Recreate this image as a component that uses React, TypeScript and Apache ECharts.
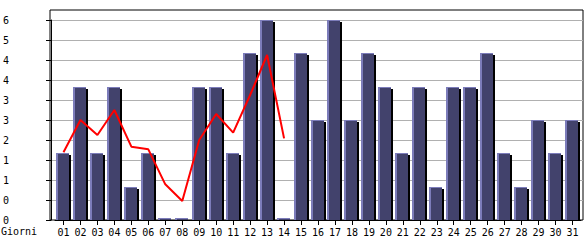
import React, { useEffect, useRef } from "react";
import * as echarts from "echarts";

const days = [
  "01", "02", "03", "04", "05", "06", "07", "08", "09", "10",
  "11", "12", "13", "14", "15", "16", "17", "18", "19", "20",
  "21", "22", "23", "24", "25", "26", "27", "28", "29", "30", "31",
];
const visits = [2, 4, 2, 4, 1, 2, 0, 0, 4, 4, 2, 5, 6, 0, 5, 3, 6, 3, 5, 4, 2, 4, 1, 4, 4, 5, 2, 1, 3, 2, 3];
const trend = [2.03, 3.0, 2.55, 3.3, 2.2, 2.12, 1.07, 0.57, 2.4, 3.18, 2.62, 3.75, 4.95, 2.45];
const yTickStep = 0.6;
const yMax = 6;
const yFrameMax = 6.3;
const xAxisTitle = "Giorni";

const FONT = "'DejaVu Sans Mono', 'Liberation Mono', monospace";
const BODY = "#42426c";
const LIGHT = "#7c7cba";

export default function App() {
  const ref = useRef<HTMLDivElement>(null);
  useEffect(() => {
    if (!ref.current) return;
    const chart = echarts.init(ref.current, null, { renderer: "svg" });
    chart.setOption({
      animation: false,
      backgroundColor: "#ffffff",
      textStyle: { fontFamily: FONT },
      grid: [
        { left: 50, right: 2, top: 10, bottom: 20, show: true, borderColor: "#000", borderWidth: 1, backgroundColor: "transparent" },
        { left: 54, right: 4, top: 20, bottom: 20 },
      ],
      xAxis: [
        { gridIndex: 0, type: "value", min: 0, max: 1, show: false },
        {
          gridIndex: 1,
          type: "category",
          data: days,
          boundaryGap: true,
          axisLine: { show: true, lineStyle: { color: "#000", width: 1 } },
          axisTick: { show: true, alignWithLabel: true, length: 5, lineStyle: { color: "#000" } },
          axisLabel: { color: "#000", fontSize: 10, fontFamily: FONT, margin: 7, interval: 0 },
          splitLine: { show: false },
        },
      ],
      yAxis: [
        {
          gridIndex: 0,
          type: "value",
          min: 0,
          max: yFrameMax,
          interval: yTickStep,
          axisLine: { show: false },
          axisTick: { show: false },
          axisLabel: { show: false },
          splitLine: { show: true, showMinLine: false, showMaxLine: false, lineStyle: { color: "#b0b0b0", width: 1 } },
        },
        {
          gridIndex: 1,
          type: "value",
          min: 0,
          max: yMax,
          interval: yTickStep,
          offset: 4,
          axisLine: { show: true, lineStyle: { color: "#000", width: 1 } },
          axisTick: { show: true, length: 5, lineStyle: { color: "#000" } },
          axisLabel: {
            color: "#000",
            fontSize: 10,
            fontFamily: FONT,
            align: "left",
            margin: 48,
            formatter: (v: number) => String(Math.floor(v + 1e-6)),
          },
          splitLine: { show: false },
        },
      ],
      graphic: [
        {
          type: "text",
          left: 1,
          top: 226,
          style: { text: xAxisTitle, fill: "#000", font: `10px ${FONT}` },
        },
      ],
      series: [
        {
          type: "custom",
          xAxisIndex: 1,
          yAxisIndex: 1,
          data: visits.map((v, i) => [i, v]),
          encode: { x: 0, y: 1 },
          z: 2,
          renderItem: (params: any, api: any) => {
            const i = api.value(0);
            const v = api.value(1);
            const p = api.coord([i, v]);
            const b = api.coord([i, 0]);
            const left = Math.round(p[0] - 7.5);
            const base = Math.round(b[1]);
            let top = Math.round(p[1]);
            if (base - top < 2) top = base - 2;
            const h = base - top;
            return {
              type: "group",
              children: [
                { type: "rect", shape: { x: left + 13, y: top + 2, width: 2, height: Math.max(0, h - 2) }, style: { fill: "#000" } },
                { type: "rect", shape: { x: left, y: top, width: 13, height: h }, style: { fill: BODY } },
                { type: "rect", shape: { x: left, y: top, width: 2, height: h }, style: { fill: LIGHT } },
                { type: "rect", shape: { x: left, y: top, width: 13, height: 1 }, style: { fill: LIGHT } },
              ],
            };
          },
        },
        {
          type: "line",
          xAxisIndex: 1,
          yAxisIndex: 1,
          data: trend,
          symbol: "none",
          z: 5,
          lineStyle: { color: "#ff0000", width: 2 },
        },
      ],
    });
    return () => chart.dispose();
  }, []);
  return <div ref={ref} style={{ position: "fixed", left: 0, top: 0, width: 585, height: 240 }} />;
}
